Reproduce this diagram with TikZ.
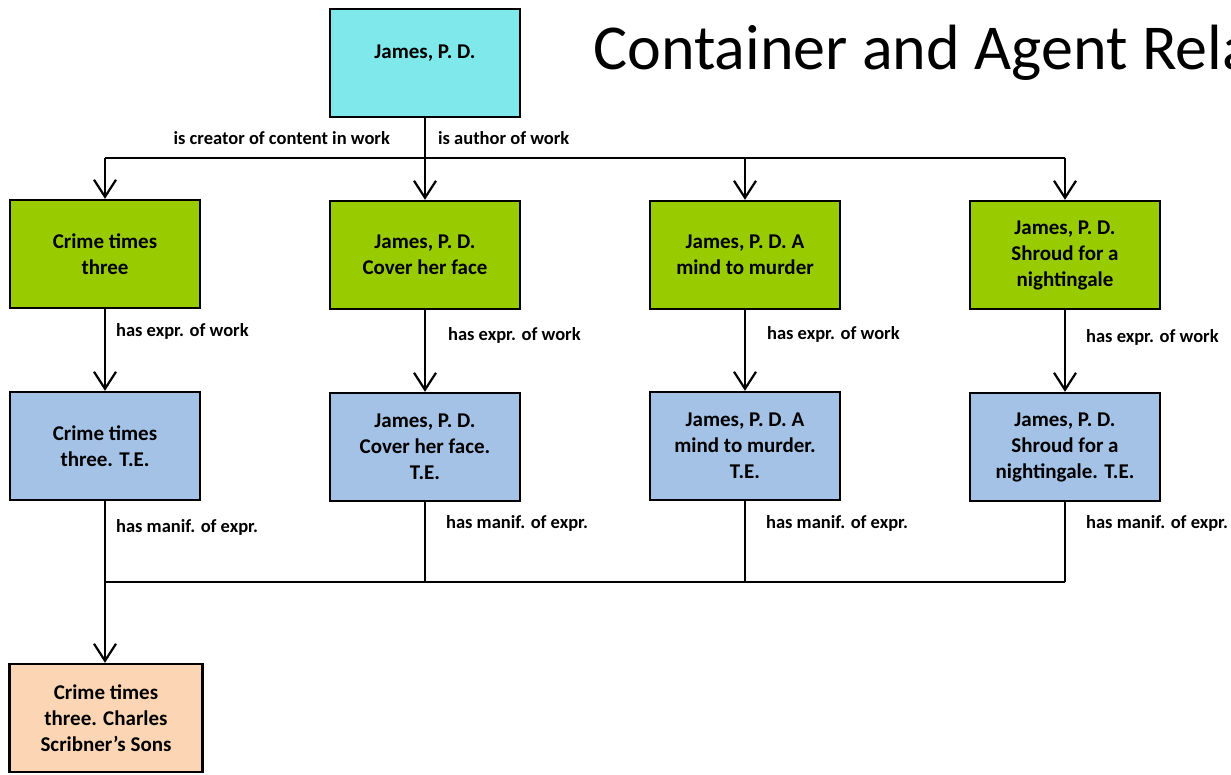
\documentclass[tikz,border=0pt]{standalone}
\usepackage{fontspec}
\setmainfont{Carlito}
\usepackage{xcolor}
\usepackage{tikz}
\usetikzlibrary{arrows.meta}
\definecolor{agentcyan}{HTML}{7EE8EA}
\definecolor{workgreen}{HTML}{99CC00}
\definecolor{exprblue}{HTML}{A4C2E6}
\definecolor{manifpeach}{HTML}{FCD5B4}

\begin{document}
\begin{tikzpicture}[x=1pt, y=-1pt,
  box/.style={draw, line width=2.4pt, align=center, font=\bfseries\fontsize{21}{26}\selectfont,
    minimum width=190pt, minimum height=108pt, inner sep=2pt},
  ln/.style={line width=2.2pt},
  arr/.style={ln, -{Straight Barb[length=17pt, width=22pt, line width=2.2pt]}},
  lbl/.style={font=\bfseries\fontsize{18.5}{20}\selectfont, inner sep=2pt}
]
\fill[white] (0,0) rectangle (1231,775);
\clip (0,0) rectangle (1231,775);

\node[anchor=base west, inner sep=0pt, font=\fontsize{64}{70}\selectfont]
  (title) at (593,70) {Container and Agent Rela};

% agent
\node[box, fill=agentcyan, text depth=23pt] (james) at (425,63) {James, P. D.};

% works
\node[box, fill=workgreen] (w1) at (105,254) {Crime times\\three};
\node[box, fill=workgreen] (w2) at (425,255) {James, P. D.\\Cover her face};
\node[box, fill=workgreen] (w3) at (745,255) {James, P. D. A\\mind to murder};
\node[box, fill=workgreen] (w4) at (1065,255) {James, P. D.\\Shroud for a\\nightingale};

% expressions
\node[box, fill=exprblue] (e1) at (105,446) {Crime times\\three. T.E.};
\node[box, fill=exprblue] (e2) at (425,447) {James, P. D.\\Cover her face.\\T.E.};
\node[box, fill=exprblue] (e3) at (745,446) {James, P. D. A\\mind to murder.\\T.E.};
\node[box, fill=exprblue] (e4) at (1065,447) {James, P. D.\\Shroud for a\\nightingale. T.E.};

% manifestation
\node[box, fill=manifpeach, minimum width=193pt] (m1) at (106,718) {Crime times\\three. Charles\\Scribner’s Sons};

\coordinate (split) at (425,158);
\coordinate (bus) at (105,582);

\draw[ln] (james.south) -- (split)
  node[lbl, midway, left=32pt] {is creator of content in work}
  node[lbl, midway, right=10pt] {is author of work};
\draw[ln] (split -| w1) -- (split -| w4);
\draw[arr] (split -| w1) -- (w1.north);
\draw[arr] (split) -- (w2.north);
\draw[arr] (split -| w3) -- (w3.north);
\draw[arr] (split -| w4) -- (w4.north);

\draw[arr] (w1.south) -- (e1.north) node[lbl, pos=0.27, right=8pt] {has expr. of work};
\draw[arr] (w2.south) -- (e2.north) node[lbl, pos=0.31, right=20pt] {has expr. of work};
\draw[arr] (w3.south) -- (e3.north) node[lbl, pos=0.3, right=19pt] {has expr. of work};
\draw[arr] (w4.south) -- (e4.north) node[lbl, pos=0.34, right=18pt] {has expr. of work};

\draw[ln] (e1.south) -- (bus) node[lbl, pos=0.33, right=8pt] {has manif. of expr.};
\draw[ln] (e2.south) -- (e2 |- bus) node[lbl, pos=0.27, right=18pt] {has manif. of expr.};
\draw[ln] (e3.south) -- (e3 |- bus) node[lbl, pos=0.28, right=18pt] {has manif. of expr.};
\draw[ln] (e4.south) -- (e4 |- bus) node[lbl, pos=0.27, right=18pt] {has manif. of expr.};
\draw[ln] (bus) -- (bus -| e4);
\draw[arr] (bus) -- (bus |- m1.north);
\end{tikzpicture}
\end{document}
